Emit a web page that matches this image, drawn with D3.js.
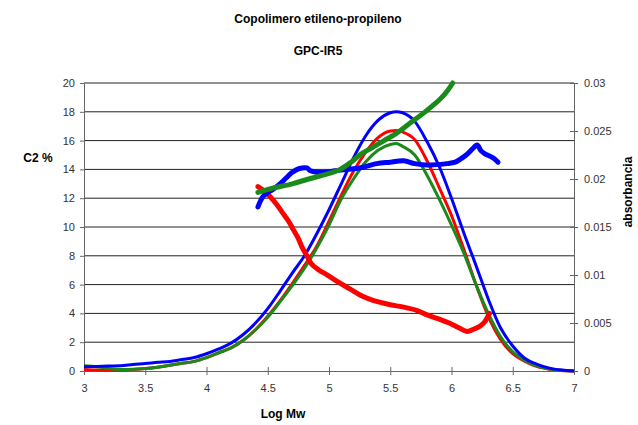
<!DOCTYPE html>
<html>
<head>
<meta charset="utf-8">
<script src="https://cdn.jsdelivr.net/npm/d3@7"></script>
<style>
  body { margin: 0; background: #fff; }
  svg text { font-family: Arial, "Liberation Sans", sans-serif; }
</style>
</head>
<body>
<svg id="chart" width="638" height="425"></svg>
<script>
// Absorbancia (eje derecho) : Log Mw commun aux trois courbes
const absX = [3.0, 3.1, 3.2, 3.3, 3.4, 3.5, 3.6, 3.7, 3.8, 3.9, 4.0, 4.1, 4.2, 4.3, 4.4, 4.5, 4.6, 4.7, 4.8, 4.9,
              5.0, 5.1, 5.2, 5.3, 5.4, 5.5, 5.55, 5.6, 5.7, 5.8, 5.9, 6.0, 6.1, 6.2, 6.3, 6.4, 6.5, 6.6, 6.7, 6.8, 6.9, 7.0];
const absBlue = [0.00045, 0.00048, 0.00052, 0.00055, 0.00068, 0.00078, 0.0009, 0.001, 0.0012, 0.0014, 0.0018, 0.0023, 0.0029, 0.0038, 0.005, 0.0065, 0.0083, 0.0102, 0.012, 0.0143,
                 0.0168, 0.0195, 0.0222, 0.0245, 0.0261, 0.0269, 0.027, 0.0269, 0.026, 0.0239, 0.0213, 0.018, 0.0144, 0.011, 0.0075, 0.0045, 0.0026, 0.0013, 0.0007, 0.0003, 0.0001, 0];
const absRed = [0.00015, 0.0001, 0.00008, 0.00008, 0.00015, 0.00025, 0.0004, 0.0006, 0.0008, 0.001, 0.0014, 0.0019, 0.0024, 0.0032, 0.0043, 0.0057, 0.0073, 0.0091, 0.011, 0.013,
                0.0156, 0.0183, 0.0208, 0.0228, 0.0243, 0.025, 0.02505, 0.0249, 0.0241, 0.0219, 0.0191, 0.0162, 0.0127, 0.009, 0.0057, 0.0033, 0.0018, 0.001, 0.00045, 0.00018, 0.00006, 0];
const absGreen = [0.00055, 0.00045, 0.00025, 0.00015, 0.00018, 0.00025, 0.0004, 0.0006, 0.0008, 0.001, 0.0014, 0.0019, 0.0024, 0.0032, 0.0043, 0.0056, 0.0072, 0.0089, 0.0107, 0.0128,
                  0.0152, 0.0179, 0.02, 0.0218, 0.023, 0.0236, 0.0237, 0.0234, 0.0225, 0.0204, 0.0179, 0.0152, 0.0123, 0.009, 0.006, 0.0036, 0.002, 0.0011, 0.0005, 0.0002, 0.00007, 0];

// C2 % (eje izquierdo)
const c2BlueX = [4.42, 4.46, 4.5, 4.54, 4.6, 4.65, 4.7, 4.74, 4.78, 4.82, 4.85, 4.9, 4.98, 5.05, 5.15, 5.25, 5.39, 5.5, 5.61, 5.7, 5.8, 5.96, 6.03, 6.07, 6.12, 6.18, 6.21, 6.24, 6.27, 6.34, 6.38];
const c2BlueY = [11.4, 12.1, 12.4, 12.6, 13.0, 13.4, 13.8, 14.0, 14.1, 14.1, 13.9, 13.8, 13.8, 13.9, 14.0, 14.1, 14.4, 14.5, 14.6, 14.4, 14.3, 14.4, 14.5, 14.7, 15.0, 15.5, 15.7, 15.3, 15.1, 14.8, 14.5];
const c2GreenX = [4.42, 4.54, 4.7, 4.82, 4.95, 5.09, 5.18, 5.25, 5.35, 5.45, 5.55, 5.66, 5.8, 5.91, 5.97, 6.01];
const c2GreenY = [12.4, 12.7, 13.0, 13.3, 13.6, 14.0, 14.5, 15.0, 15.5, 16.0, 16.5, 17.2, 18.1, 18.9, 19.5, 20.0];
const c2RedX = [4.42, 4.47, 4.52, 4.57, 4.62, 4.67, 4.71, 4.75, 4.78, 4.82, 4.86, 4.92, 4.98, 5.07, 5.17, 5.27, 5.36, 5.5, 5.6, 5.72, 5.8, 5.9, 5.99, 6.06, 6.13, 6.18, 6.23, 6.27, 6.31];
const c2RedY = [12.8, 12.5, 12.1, 11.6, 11.0, 10.4, 9.8, 9.2, 8.6, 8.0, 7.4, 7.0, 6.7, 6.2, 5.7, 5.2, 4.9, 4.6, 4.45, 4.2, 3.9, 3.6, 3.3, 3.0, 2.75, 2.9, 3.1, 3.4, 4.0];

const xTicks = [3, 3.5, 4, 4.5, 5, 5.5, 6, 6.5, 7];
const leftTicks = [0, 2, 4, 6, 8, 10, 12, 14, 16, 18, 20];
const rightTicks = [0, 0.005, 0.01, 0.015, 0.02, 0.025, 0.03];

const svg = d3.select("#chart");
const margin = { left: 84, right: 64, top: 83, bottom: 54 };
const width = 638 - margin.left - margin.right;
const height = 425 - margin.top - margin.bottom;
const g = svg.append("g").attr("transform", "translate(" + margin.left + "," + margin.top + ")");

const x = d3.scaleLinear().domain([3, 7]).range([0, width]);
const yLeft = d3.scaleLinear().domain([0, 20]).range([height, 0]);
const yRight = d3.scaleLinear().domain([0, 0.03]).range([height, 0]);

// Lignes de grille horizontales
g.selectAll(".grid")
    .data(leftTicks.slice(1))
    .enter()
    .append("line")
    .attr("x1", 0)
    .attr("x2", width)
    .attr("y1", function(d) { return yLeft(d); })
    .attr("y2", function(d) { return yLeft(d); })
    .attr("stroke", "#222")
    .attr("stroke-width", 1);

function styleAxis(sel) {
    sel.select(".domain").attr("stroke", "#666");
    sel.selectAll(".tick line").attr("stroke", "#666");
    sel.selectAll(".tick text")
        .attr("fill", "#333")
        .attr("font-size", 11)
        .attr("font-family", "Arial, 'Liberation Sans', sans-serif");
}

const leftAxis = g.append("g")
    .call(d3.axisLeft(yLeft).tickValues(leftTicks).tickSize(4).tickSizeOuter(0).tickPadding(5))
    .call(styleAxis);

const rightAxis = g.append("g")
    .attr("transform", "translate(" + width + ",0)")
    .call(d3.axisRight(yRight).tickValues(rightTicks).tickSize(4).tickSizeOuter(0).tickPadding(6)
        .tickFormat(function(d) { return d === 0 ? "0" : String(+d.toFixed(3)); }))
    .call(styleAxis);
rightAxis.selectAll(".tick line").attr("x1", -4);

const bottomAxis = g.append("g")
    .attr("transform", "translate(0," + height + ")")
    .call(d3.axisBottom(x).tickValues(xTicks).tickSize(4).tickSizeOuter(0).tickPadding(9)
        .tickFormat(function(d) { return String(d); }))
    .call(styleAxis);
bottomAxis.selectAll(".tick line").attr("y1", -4);

// Courbes d'absorbance
function absLine(values) {
    return d3.line()
        .x(function(d, i) { return x(absX[i]); })
        .y(function(d) { return yRight(d); })
        .curve(d3.curveMonotoneX)(values);
}

function c2Line(xs, ys) {
    return d3.line()
        .x(function(d, i) { return x(xs[i]); })
        .y(function(d) { return yLeft(d); })
        .curve(d3.curveCatmullRom)(ys);
}

const absSeries = [
    { values: absRed, color: "#ff0000" },
    { values: absGreen, color: "#1a8a1a" },
    { values: absBlue, color: "#0000ff" }
];

absSeries.forEach(function(s) {
    g.append("path")
        .attr("d", absLine(s.values))
        .attr("fill", "none")
        .attr("stroke", s.color)
        .attr("stroke-width", 3)
        .attr("stroke-linejoin", "round");
});

const c2Series = [
    { xs: c2RedX, ys: c2RedY, color: "#ff0000" },
    { xs: c2BlueX, ys: c2BlueY, color: "#0000ff" },
    { xs: c2GreenX, ys: c2GreenY, color: "#1a8a1a" }
];

c2Series.forEach(function(s) {
    g.append("path")
        .attr("d", c2Line(s.xs, s.ys))
        .attr("fill", "none")
        .attr("stroke", s.color)
        .attr("stroke-width", 5)
        .attr("stroke-linecap", "round")
        .attr("stroke-linejoin", "round");
});

// Titres
svg.append("text")
    .attr("x", 318).attr("y", 23)
    .attr("text-anchor", "middle")
    .attr("font-size", 12).attr("font-weight", "bold")
    .text("Copolimero etileno-propileno");

svg.append("text")
    .attr("x", 318).attr("y", 55)
    .attr("text-anchor", "middle")
    .attr("font-size", 12).attr("font-weight", "bold")
    .text("GPC-IR5");

svg.append("text")
    .attr("x", 38).attr("y", 162)
    .attr("text-anchor", "middle")
    .attr("font-size", 12).attr("font-weight", "bold")
    .text("C2 %");

svg.append("text")
    .attr("x", 283).attr("y", 418)
    .attr("text-anchor", "middle")
    .attr("font-size", 12).attr("font-weight", "bold")
    .text("Log Mw");

svg.append("text")
    .attr("transform", "translate(632,192) rotate(-90)")
    .attr("text-anchor", "middle")
    .attr("font-size", 12).attr("font-weight", "bold")
    .text("absorbancia");
</script>
</body>
</html>
